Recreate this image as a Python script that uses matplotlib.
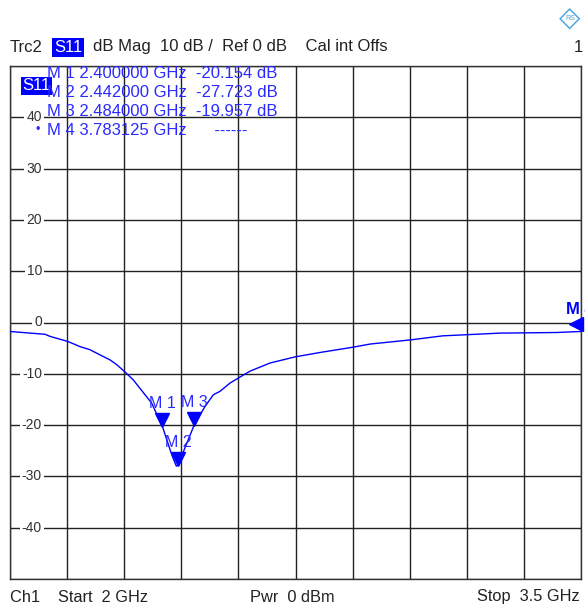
import matplotlib
matplotlib.use("Agg")
import matplotlib.pyplot as plt
import matplotlib.transforms as mtransforms
import numpy as np

plt.rcParams['font.family'] = ['Liberation Sans', 'DejaVu Sans']

# trace S11 (GHz, dB)
freq_ghz = [2.000, 2.092, 2.105, 2.152, 2.184, 2.210, 2.236, 2.263, 2.280,
            2.300, 2.324, 2.341, 2.372, 2.400, 2.412, 2.425, 2.437, 2.442,
            2.463, 2.484, 2.512, 2.534, 2.552, 2.578, 2.630, 2.683, 2.749,
            2.814, 2.902, 2.946, 3.051, 3.137, 3.287, 3.436, 3.500]
s11_db = [-1.75, -2.3, -2.7, -3.7, -4.7, -5.3, -6.3, -7.3, -8.2,
          -9.5, -11.2, -12.8, -15.7, -20.154, -22.9, -25.8, -28.0, -27.723,
          -23.8, -19.957, -16.4, -14.1, -13.4, -11.8, -9.5, -7.9, -6.7,
          -5.85, -4.8, -4.2, -3.4, -2.6, -2.07, -1.95, -1.75]

# markers
mk_names = ["M 1", "M 2", "M 3"]
mk_freq = [2.400, 2.442, 2.484]
mk_db = [-20.154, -27.723, -19.957]
m4_freq = 3.783125
m4_edge_db = -0.2

table_rows = ["M 1 2.400000 GHz  -20.154 dB",
              "M 2 2.442000 GHz  -27.723 dB",
              "M 3 2.484000 GHz  -19.957 dB",
              "M 4 3.783125 GHz      ------"]

y_labels = [40, 30, 20, 10, 0, -10, -20, -30, -40]

blue = '#0000ff'
txtblue = '#2a2aff'
grey = '#222222'

W, H = 585, 604
fig = plt.figure(figsize=(W / 100, H / 100), dpi=100)
fig.patch.set_facecolor('white')

x0, x1, y0, y1 = 10, 581, 66, 579
ax = fig.add_axes([x0 / W, 1 - y1 / H, (x1 - x0) / W, (y1 - y0) / H])
ax.set_xlim(2.0, 3.5)
ax.set_ylim(-50, 50)
ax.set_xticks(np.linspace(2.0, 3.5, 11))
ax.set_yticks(np.arange(-50, 51, 10))
ax.tick_params(left=False, bottom=False, labelleft=False, labelbottom=False)
ax.grid(True, color='#222222', lw=1)
for s in ax.spines.values():
    s.set_color('#333333')
    s.set_linewidth(1)

# y labels sitting on the grid lines
blend = mtransforms.blended_transform_factory(ax.transAxes, ax.transData)
for v in y_labels:
    ax.text(32 / 571, v, "%d" % v if v >= 0 else "-%d" % abs(v), transform=blend,
            ha='right', va='center', fontsize=10, color='#333333',
            bbox=dict(facecolor='white', edgecolor='none', pad=1.5), zorder=3)

ax.plot(freq_ghz, s11_db, color=blue, lw=1, zorder=4)

# marker triangles sit just above the trace
tri_off = mtransforms.offset_copy(ax.transData, fig=fig, y=6, units='dots')
lab_off = mtransforms.offset_copy(ax.transData, fig=fig, y=22, units='dots')
for name, f, v in zip(mk_names, mk_freq, mk_db):
    ax.plot(f, v, marker='v', ms=10, color=blue, transform=tri_off, zorder=5,
            clip_on=False)
    ax.text(f, v, name, transform=lab_off, ha='center', va='center',
            fontsize=11.5, color=txtblue, zorder=5)

# M4 is beyond stop frequency -> arrow at right edge
edge_off = mtransforms.offset_copy(ax.transData, fig=fig, x=-5, units='dots')
ax.plot(3.5, m4_edge_db, marker='<', ms=10, color=blue, transform=edge_off,
        clip_on=False, zorder=5)
fig.text(566 / W, 1 - 309 / H, "M 4", fontsize=12, fontweight='bold',
         color=blue, va='center', ha='left')

# marker table
for i, row in enumerate(table_rows):
    fig.text(47 / W, 1 - (74 + 18.7 * i) / H, row, fontsize=12, color=txtblue,
             va='center', ha='left', zorder=6)
fig.text(35 / W, 1 - 130 / H, u"\u2022", fontsize=9, color=txtblue,
         va='center', ha='left')
fig.text(22 / W, 1 - 86 / H, "S11", fontsize=12, color='white', va='center',
         ha='left', bbox=dict(facecolor=blue, edgecolor='none', pad=1.0), zorder=5)

# header
hy = 1 - 47 / H
fig.text(10 / W, hy, "Trc2", fontsize=12, color=grey, va='center')
fig.text(54 / W, hy, "S11", fontsize=12, color='white', va='center',
         bbox=dict(facecolor=blue, edgecolor='none', pad=1.5))
fig.text(93 / W, hy, "dB Mag  10 dB /  Ref 0 dB    Cal int Offs",
         fontsize=12, color=grey, va='center')
fig.text(578 / W, hy, "1", fontsize=12, color=grey, va='center', ha='center')

# R&S logo
fig.text(570 / W, 1 - 19 / H, u"\u25c7", fontsize=20, color='#4aa3e0',
         ha='center', va='center')
fig.text(570 / W, 1 - 19 / H, "RS", fontsize=5, color='#4aa3e0',
         ha='center', va='center')

# footer
fy = 1 - 597 / H
fig.text(10 / W, fy, "Ch1    Start  2 GHz", fontsize=11.8, color=grey, va='center')
fig.text(292 / W, fy, "Pwr  0 dBm", fontsize=11.8, color=grey, va='center',
         ha='center')
fig.text(580 / W, fy, "Stop  3.5 GHz", fontsize=11.8, color=grey, va='center',
         ha='right')

fig.savefig("out.png", dpi=100)
